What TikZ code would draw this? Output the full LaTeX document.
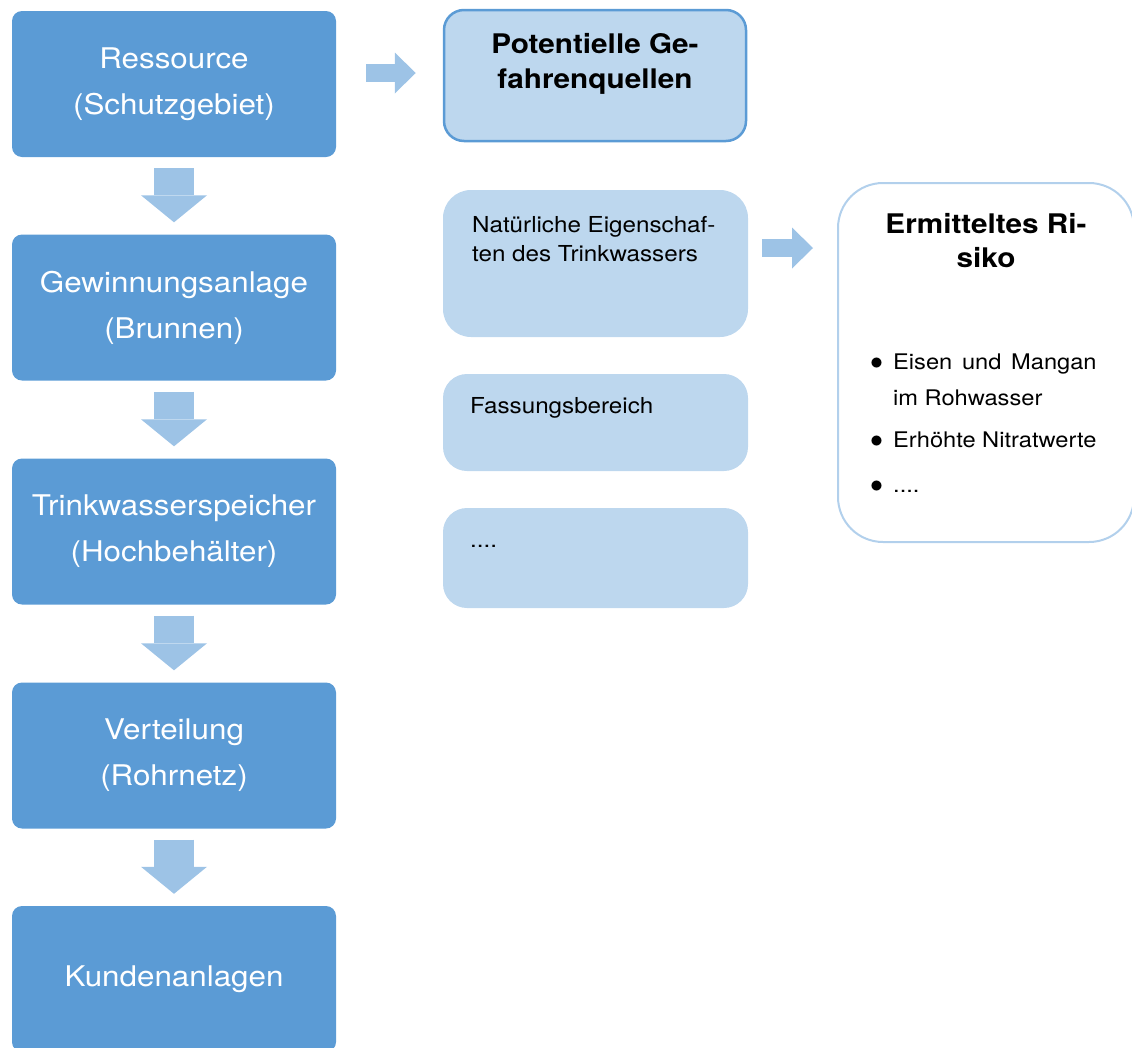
\documentclass[tikz,border=0pt]{standalone}
\usepackage{xcolor}
\usepackage{calc}
\usepackage{fontspec}
\setmainfont{TeX Gyre Heros}[FakeStretch=1.1]
\usepackage{tikz}
\usetikzlibrary{calc}
\usetikzlibrary{arrows.meta}
\usetikzlibrary{shapes}

\definecolor{stepblue}{HTML}{5B9BD5}
\definecolor{arrowblue}{HTML}{9DC3E6}
\definecolor{paleblue}{HTML}{BDD7EE}
\definecolor{riskline}{HTML}{B2D0EC}

\tikzset{
  stepbox/.style={rectangle, rounded corners=10pt, fill=stepblue, text=white, inner sep=0pt,
    minimum width=324pt, minimum height=146pt, align=center, font=\fontsize{28.5}{46}\selectfont},
  midbox/.style={rectangle, rounded corners=24pt, fill=paleblue, inner sep=0pt, minimum width=305pt},
  headtext/.style={inner sep=0pt, align=center, font=\fontsize{27}{34.5}\selectfont\bfseries},
  midtext/.style={inner sep=0pt, align=left, font=\fontsize{22}{29}\selectfont},
  downarrow/.style={line width=40pt, draw=arrowblue, -{Triangle[width=66pt, length=27pt, line width=0pt]}},
  sidearrow/.style={line width=18pt, draw=arrowblue, -{Triangle[width=41pt, length=21pt, line width=0pt]}}
}
\newcommand{\riskdot}{\makebox[21pt][l]{\hspace{-2pt}\scalebox{1.25}{$\bullet$}}}

\begin{document}
\begin{tikzpicture}[x=1pt, y=-1pt]
\useasboundingbox (0,0) rectangle (1132,1047);
% process chain
\node [stepbox](res) at (174, 84) {Ressource\\(Schutzgebiet)};
\node [stepbox](gew) at (174, 307.5) {Gewinnungsanlage\\(Brunnen)};
\node [stepbox](tri) at (174, 531.5) {Trinkwasserspeicher\\(Hochbehälter)};
\node [stepbox](ver) at (174, 755.5) {Verteilung\\(Rohrnetz)};
\node [stepbox](kun) at (174, 979) {Kundenanlagen};
\foreach \a/\b in {res/gew, gew/tri, tri/ver, ver/kun}
  \draw [downarrow] ([yshift=-11pt]\a.south) to ([yshift=12pt]\b.north);

% sources of danger
\node [rectangle, rounded corners=20pt, fill=paleblue, draw=stepblue, line width=2.5pt,
  minimum width=302pt, minimum height=131pt, inner sep=0pt](pot) at (595, 75.5) {};
\node [headtext](potT) at (595, 64) {Potentielle Ge-\\fahrenquellen};
\draw [sidearrow] ([xshift=30pt, yshift=11pt]res.east) to ([xshift=-27pt, yshift=2.5pt]pot.west);

\node [midbox, minimum height=147pt, rounded corners=28pt](nat) at (595.5, 263.5) {};
\node [midbox, minimum height=97pt](fas) at (595.5, 422.5) {};
\node [midbox, minimum height=100pt](more) at (595.5, 558) {};
\node [midtext, anchor=west](natT) at (472, 239) {Natürliche Eigenschaf-\\ten des Trinkwassers};
\node [midtext, anchor=base west](fasT) at (470, 413) {Fassungsbereich};
\node [midtext, anchor=base west](moreT) at (470, 547) {....};

% risk
\node [rectangle, rounded corners=45pt, draw=riskline, line width=2pt, fill=white,
  minimum width=296pt, minimum height=359pt, inner sep=0pt](risk) at (986, 362.5) {};
\node [headtext](riskT) at (986, 240.7) {Ermitteltes Ri-\\siko};
\node [inner sep=0pt, anchor=north west, font=\fontsize{21.5}{36}\selectfont](riskL) at (872, 343.8) {%
  \begin{tabular}{@{}l@{}l@{}}
  \riskdot & \makebox[\widthof{Erhöhte Nitratwerte}][s]{Eisen und Mangan}\\
  & im Rohwasser\\[6pt]
  \riskdot & Erhöhte Nitratwerte\\[9pt]
  \riskdot & ....
  \end{tabular}};
\draw [sidearrow] ([xshift=14pt, yshift=15.5pt]nat.east) to ([xshift=-24pt, yshift=114.5pt]risk.west);
\end{tikzpicture}
\end{document}
